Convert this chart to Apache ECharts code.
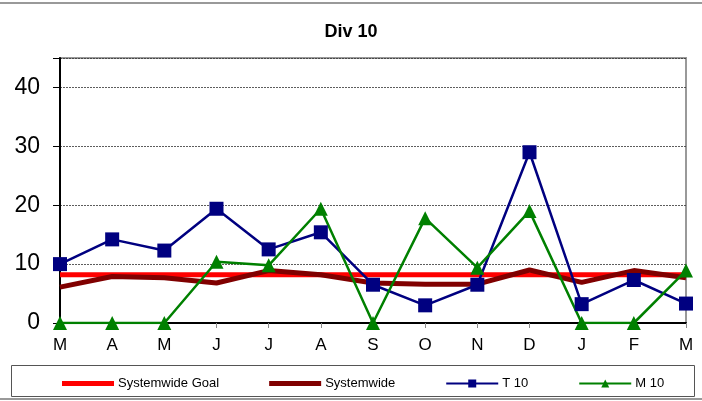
<!DOCTYPE html>
<html><head><meta charset="utf-8">
<script src="https://cdn.jsdelivr.net/npm/echarts@6/dist/echarts.min.js"></script>
<style>html,body{margin:0;padding:0;background:#fff}#c{width:702px;height:401px}</style>
</head><body><div id="c"></div>
<script>
const months = ['M','A','M','J','J','A','S','O','N','D','J','F','M'];
const goal = [8.2,8.2,8.2,8.2,8.2,8.2,8.2,8.2,8.2,8.2,8.2,8.2,8.2];
const systemwide = [6.1,7.9,7.7,6.8,8.9,8.2,6.8,6.6,6.6,9.0,6.9,8.9,7.7];
const t10 = [10,14.2,12.3,19.4,12.5,15.4,6.5,3.0,6.5,29.0,3.2,7.3,3.3];
const m10 = [0,0,0,10.4,9.8,19.4,0,17.8,9.4,19.0,0,0,8.9];
const yTicks = [0,10,20,30,40];

const font = 'Liberation Sans, Arial, sans-serif';
const bar = 'path://M0,0h52v5h-52z';
const chart = echarts.init(document.getElementById('c'));
chart.setOption({
  animation:false,
  title:{text:'Div 10',left:'center',top:18,textStyle:{fontFamily:font,fontSize:18,fontWeight:'bold',color:'#000'}},
  grid:{left:60,right:16,top:58,bottom:78,show:true,borderColor:'#999',borderWidth:2},
  xAxis:{type:'category',data:months,boundaryGap:false,
    axisLine:{lineStyle:{color:'#000',width:2}},
    axisTick:{show:true,length:5,lineStyle:{color:'#888'}},
    axisLabel:{fontFamily:font,fontSize:17,color:'#000',margin:14}},
  yAxis:{type:'value',min:0,max:45,interval:10,
    axisLine:{show:true,lineStyle:{color:'#000',width:2}},
    axisTick:{show:true,length:7,lineStyle:{color:'#000'}},
    axisLabel:{fontFamily:font,fontSize:23,color:'#000',margin:20,
      formatter:v=>yTicks.includes(v)?String(v):''},
    splitLine:{show:true,lineStyle:{color:'#333',type:[2,1],width:0.8}}},
  legend:{top:372,left:57,itemWidth:52,itemHeight:10,itemGap:50,
    textStyle:{fontFamily:font,fontSize:13,color:'#000',padding:[0,0,0,-1]},
    data:[{name:'Systemwide Goal',icon:bar},{name:'Systemwide',icon:bar},'T 10','M 10']},
  graphic:[
    {type:'rect',shape:{x:11.5,y:365.5,width:683,height:31},style:{fill:'none',stroke:'#555',lineWidth:1},z:-1},
    {type:'line',shape:{x1:0,y1:3,x2:702,y2:3},style:{stroke:'#999',lineWidth:2}},
    {type:'line',shape:{x1:0,y1:399,x2:702,y2:399},style:{stroke:'#999',lineWidth:2}}
  ],
  series:[
    {name:'Systemwide Goal',type:'line',data:goal,symbol:'none',lineStyle:{color:'#ff0000',width:5},itemStyle:{color:'#ff0000'}},
    {name:'Systemwide',type:'line',data:systemwide,symbol:'none',lineStyle:{color:'#800000',width:5},itemStyle:{color:'#800000'}},
    {name:'T 10',type:'line',data:t10,symbol:'rect',symbolSize:14,lineStyle:{color:'#000080',width:2.5},itemStyle:{color:'#000080'}},
    {name:'M 10',type:'line',data:m10,symbol:'triangle',symbolSize:14,lineStyle:{color:'#008000',width:2.5},itemStyle:{color:'#008000'}}
  ]
});
</script></body></html>
